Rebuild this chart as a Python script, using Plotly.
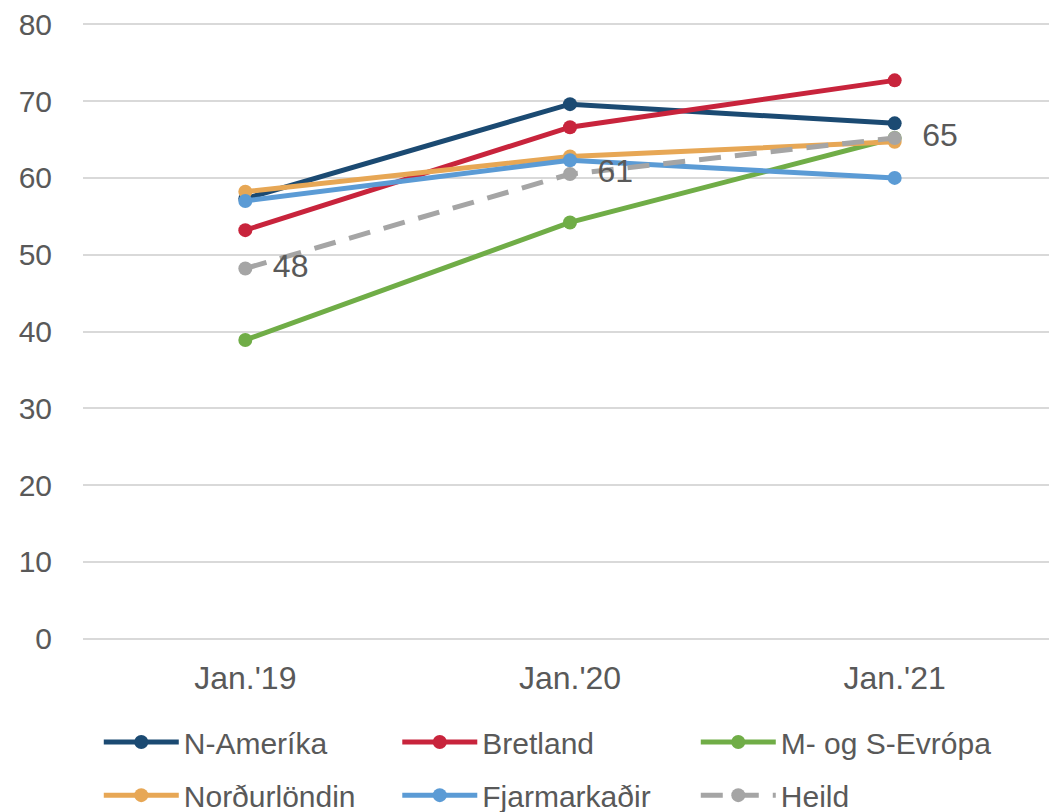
import plotly.graph_objects as go

categories = ["Jan.'19", "Jan.'20", "Jan.'21"]
series_names = ["N-Ameríka", "Bretland", "M- og S-Evrópa", "Norðurlöndin", "Fjarmarkaðir", "Heild"]
n_amerika = [57.3, 69.6, 67.1]
bretland = [53.2, 66.6, 72.7]
m_s_evropa = [38.9, 54.2, 65.2]
nordurlondin = [58.2, 62.8, 64.7]
fjarmarkadir = [57.0, 62.3, 60.0]
heild = [48.2, 60.5, 65.2]
heild_labels = ["48", "61", "65"]
y_ticks = [0, 10, 20, 30, 40, 50, 60, 70, 80]

colors = ["#1B4A72", "#C8243C", "#70AD47", "#E7A755", "#5B9BD5", "#A5A5A5"]
values = [n_amerika, bretland, m_s_evropa, nordurlondin, fjarmarkadir, heild]

FONT = "Liberation Sans"
TXT = "#595959"

fig = go.Figure()
for i, (name, vals, col) in enumerate(zip(series_names, values, colors)):
    is_total = name == "Heild"
    fig.add_trace(go.Scatter(
        x=categories, y=vals, name=name,
        mode="lines+markers+text" if is_total else "lines+markers",
        text=heild_labels if is_total else None,
        texttemplate="  %{text}" if is_total else None,
        textposition="middle right",
        textfont=dict(family=FONT, size=32, color=TXT),
        line=dict(color=col, width=5, dash="22px,14px" if is_total else "solid"),
        marker=dict(color=col, size=14),
        cliponaxis=False,
        legend="legend" if i < 3 else "legend2",
    ))

leg_common = dict(
    orientation="h", xanchor="left", yanchor="middle",
    entrywidth=208.5, entrywidthmode="pixels",
    font=dict(family=FONT, size=30, color=TXT),
    itemwidth=75, bgcolor="rgba(0,0,0,0)",
)
fig.update_layout(
    width=1049, height=804,
    margin=dict(l=75, r=0, t=14, b=171, autoexpand=False),
    paper_bgcolor="white", plot_bgcolor="white",
    font=dict(family=FONT, size=30, color=TXT),
    showlegend=True,
    legend=dict(x=0.0162, y=-0.1632, **leg_common),
    legend2=dict(x=0.0162, y=-0.249, **leg_common),
)
fig.update_xaxes(type="category", range=[-0.5, 2.5], showgrid=False, showline=False, ticks="",
                 tickfont=dict(size=32, color=TXT), automargin=False, ticklabelstandoff=15)
fig.update_yaxes(range=[-0.3, 80.3], tickvals=y_ticks, showgrid=True, gridcolor="#D9D9D9", gridwidth=2,
                 zeroline=False, showline=False, ticks="", tickfont=dict(size=30, color=TXT),
                 ticklabelstandoff=30, automargin=False, ticklabeloverflow="allow")

fig.write_html("out.html")
